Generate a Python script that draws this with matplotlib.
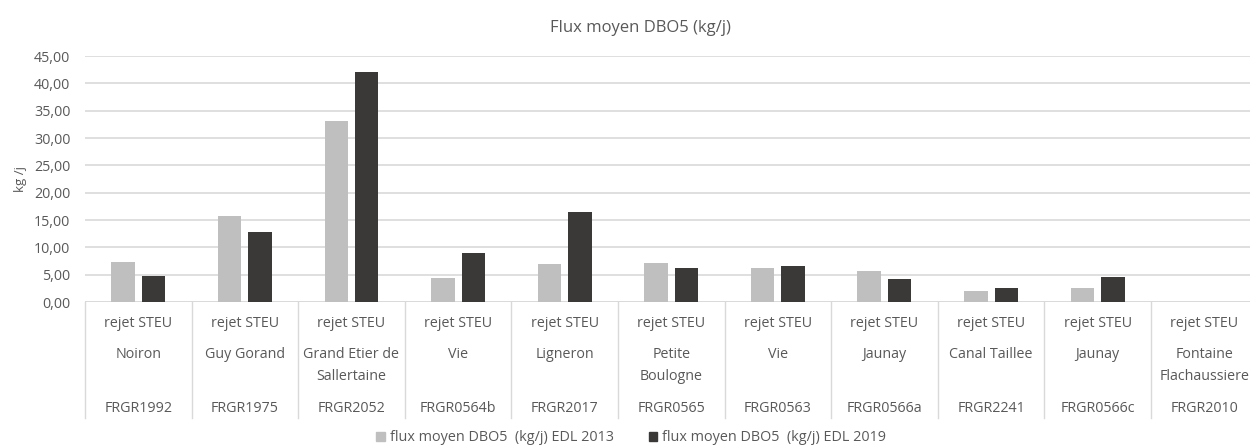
import matplotlib
matplotlib.use('Agg')
import matplotlib.pyplot as plt
import numpy as np
from matplotlib.ticker import FuncFormatter, MultipleLocator
from matplotlib.patches import Patch

plt.rcParams['font.family'] = ['Open Sans', 'DejaVu Sans']

rejets = ['rejet STEU'] * 11
noms = ['Noiron', 'Guy Gorand', 'Grand Etier de\nSallertaine', 'Vie', 'Ligneron',
        'Petite\nBoulogne', 'Vie', 'Jaunay', 'Canal Taillee', 'Jaunay',
        'Fontaine\nFlachaussiere']
codes = ['FRGR1992', 'FRGR1975', 'FRGR2052', 'FRGR0564b', 'FRGR2017', 'FRGR0565',
         'FRGR0563', 'FRGR0566a', 'FRGR2241', 'FRGR0566c', 'FRGR2010']
flux_2013 = [7.3, 15.7, 33.1, 4.4, 6.9, 7.1, 6.3, 5.7, 1.95, 2.5, 0.0]
flux_2019 = [4.8, 12.9, 42.0, 9.0, 16.5, 6.3, 6.65, 4.3, 2.5, 4.6, 0.0]
serie_2013 = 'flux moyen DBO5  (kg/j) EDL 2013'
serie_2019 = 'flux moyen DBO5  (kg/j) EDL 2019'

txt = '#595959'
grid = '#d9d9d9'
c13 = '#bfbfbf'
c19 = '#3a3938'

fig = plt.figure(figsize=(12.5, 4.45), dpi=100)
ax = fig.add_axes([0.068, 0.3213, 0.938, 0.5528])

x = np.arange(len(codes))
w = 0.22
ax.bar(x - 0.143, flux_2013, w, color=c13, zorder=3)
ax.bar(x + 0.143, flux_2019, w, color=c19, zorder=3)

ax.set_xlim(-0.5, len(codes) - 0.5)
ax.set_ylim(0, 45)
ax.yaxis.set_major_locator(MultipleLocator(5))
ax.yaxis.set_major_formatter(FuncFormatter(lambda v, p: f'{v:.2f}'.replace('.', ',')))
ax.tick_params(axis='y', length=0, labelsize=10.3, labelcolor=txt, pad=10.5)
ax.tick_params(axis='x', length=0, labelbottom=False)
ax.grid(axis='y', color=grid, linewidth=1.2, zorder=0)
for s in ax.spines.values():
    s.set_visible(False)
ax.axhline(0, color=grid, linewidth=1.2, zorder=2)

ax.set_ylabel('kg /j', color=txt, fontsize=9.5, labelpad=5)
fig.text(0.512, 0.936, 'Flux moyen DBO5 (kg/j)', ha='center', va='center',
         color=txt, fontsize=12)

# category table under the axis
tr = ax.get_xaxis_transform()
for i in range(len(codes) + 1):
    ax.plot([i - 0.5, i - 0.5], [0, -0.4715], transform=tr, color=grid,
            linewidth=1, clip_on=False)
for i in range(len(codes)):
    ax.text(i, -0.089, rejets[i], transform=tr, ha='center', va='center',
            color=txt, fontsize=10.3)
    for k, ligne in enumerate(noms[i].split('\n')):
        ax.text(i, -0.2114 - 0.0894 * k, ligne, transform=tr, ha='center',
                va='center', color=txt, fontsize=10.3)
    ax.text(i, -0.431, codes[i], transform=tr, ha='center', va='center',
            color=txt, fontsize=10.3)

handles = [Patch(color=c13, label=serie_2013), Patch(color=c19, label=serie_2019)]
fig.legend(handles=handles, loc='center', bbox_to_anchor=(0.505, 0.016), ncol=2,
           frameon=False, fontsize=10.4, labelcolor=txt, handlelength=0.6,
           handleheight=0.6, handletextpad=0.35, columnspacing=2.4)

plt.savefig('out.png', dpi=100)
